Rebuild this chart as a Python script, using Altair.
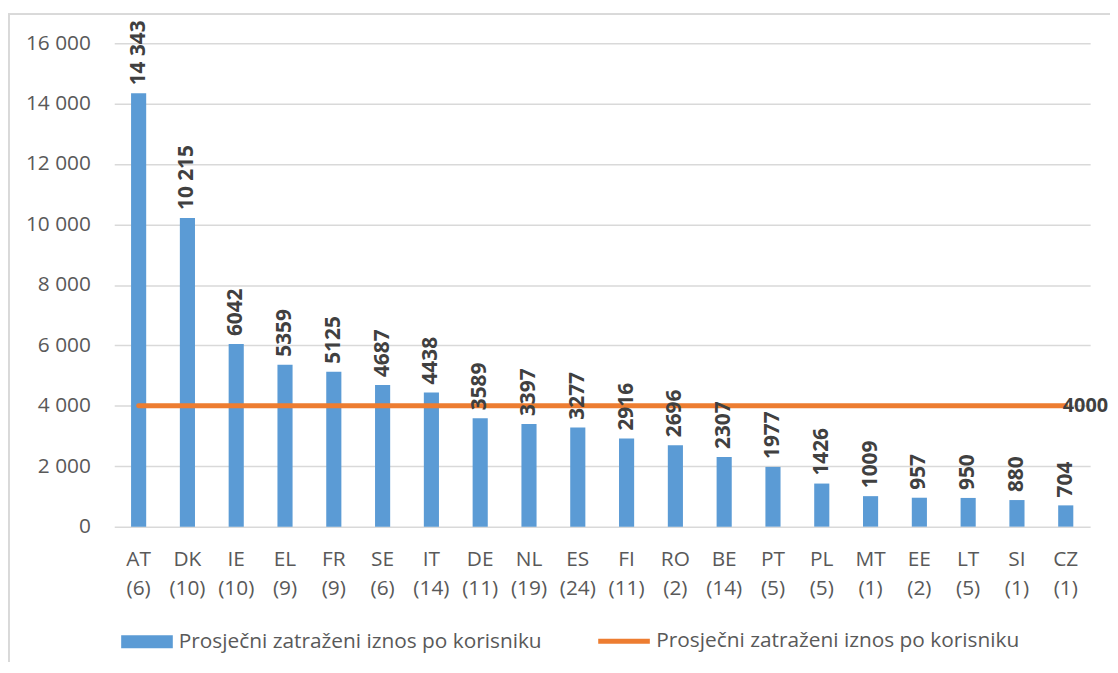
import altair as alt
import pandas as pd

countries = ["AT", "DK", "IE", "EL", "FR", "SE", "IT", "DE", "NL", "ES",
             "FI", "RO", "BE", "PT", "PL", "MT", "EE", "LT", "SI", "CZ"]
counts = [6, 10, 10, 9, 9, 6, 14, 11, 19, 24, 11, 2, 14, 5, 5, 1, 2, 5, 1, 1]
values = [14343, 10215, 6042, 5359, 5125, 4687, 4438, 3589, 3397, 3277,
          2916, 2696, 2307, 1977, 1426, 1009, 957, 950, 880, 704]
average = 4000
series_name = "Prosječni zatraženi iznos po korisniku"
y_ticks = [0, 2000, 4000, 6000, 8000, 10000, 12000, 14000, 16000]

FONT = "Open Sans"
FS = 21
df = pd.DataFrame({
    "cat": [f"{c}\n({n})" for c, n in zip(countries, counts)],
    "value": values,
    "avg": [average] * len(countries),
    "bar_series": ["bar"] * len(countries),
    "line_series": ["line"] * len(countries),
})
order = list(df["cat"])
df["is_last"] = [i == len(order) - 1 for i in range(len(order))]

legend_label = f"'{series_name}'"

x = alt.X("cat:N", sort=order, title=None,
          scale=alt.Scale(paddingInner=0.69, paddingOuter=0.345),
          axis=alt.Axis(labelAngle=0, labelExpr="split(datum.label, '\\n')",
                        labelLineHeight=29, labelPadding=22, labelFontSize=FS,
                        labelColor="#595959", labelFont=FONT, domain=False,
                        ticks=False, grid=False, labelBaseline="top"))

y_scale = alt.Scale(domain=[0, 16000], nice=False)

bars = alt.Chart(df).mark_bar(clip=False).encode(
    x=x,
    y=alt.Y("value:Q", scale=y_scale, title=None,
            axis=alt.Axis(values=y_ticks, labelExpr="replace(format(datum.value, ',d'), ',', ' ')",
                          labelFontSize=FS, labelColor="#595959", labelFont=FONT,
                          labelPadding=24, ticks=False, domain=False,
                          gridColor="#D9D9D9", gridWidth=1.5)),
    fill=alt.Fill("bar_series:N",
                  scale=alt.Scale(domain=["bar"], range=["#5B9BD5"]),
                  legend=alt.Legend(title=None, orient="none", legendX=7, legendY=577,
                                    symbolType="M-1,-0.25H1V0.25H-1Z", symbolSize=2704,
                                    symbolStrokeWidth=0, labelFontSize=FS, labelFont=FONT,
                                    labelColor="#595959", labelOffset=6, labelLimit=600,
                                    labelExpr=legend_label)),
)

bar_labels = alt.Chart(df).transform_calculate(
    lbl="datum.value >= 10000 ? replace(format(datum.value, ',d'), ',', ' ') : format(datum.value, 'd')"
).mark_text(angle=270, align="left", baseline="middle", dx=8, fontSize=FS,
            fontWeight="bold", font=FONT, color="#404040").encode(
    x=alt.X("cat:N", sort=order),
    y=alt.Y("value:Q", scale=y_scale),
    text="lbl:N",
)

line = alt.Chart(df).mark_line(strokeWidth=5, strokeCap="round").encode(
    x=alt.X("cat:N", sort=order),
    y=alt.Y("avg:Q", scale=y_scale),
    stroke=alt.Stroke("line_series:N",
                      scale=alt.Scale(domain=["line"], range=["#ED7D31"]),
                      legend=alt.Legend(title=None, orient="none", legendX=485, legendY=574,
                                        symbolType="stroke", symbolSize=2704,
                                        symbolStrokeWidth=5, labelFontSize=FS, labelFont=FONT,
                                        labelColor="#595959", labelOffset=4, labelLimit=600,
                                        labelExpr=legend_label)),
)

line_label = alt.Chart(df).transform_filter("datum.is_last").mark_text(
    align="left", baseline="middle", dx=-3, fontSize=20, fontWeight="bold",
    font=FONT, color="#404040").encode(
    x=alt.X("cat:N", sort=order),
    y=alt.Y("avg:Q", scale=y_scale),
    text=alt.Text("avg:Q", format="d"),
)

# decorative chart-area frame (top and left edges, as in the cropped original)
frame_top = alt.Chart(df).mark_rule(color="#D9D9D9", strokeWidth=1.5).encode(
    x=alt.value(-107), x2=alt.value(1003), y=alt.value(-29))
frame_left = alt.Chart(df).mark_rule(color="#D9D9D9", strokeWidth=1.5).encode(
    x=alt.value(-106.5), y=alt.value(-29), y2=alt.value(623))

chart = alt.layer(frame_top, frame_left, bars, line, bar_labels, line_label).resolve_legend(
    fill="independent", stroke="independent"
).properties(
    width=983, height=487,
    autosize=alt.AutoSizeParams(type="none"),
    padding={"left": 107, "top": 33, "right": 20, "bottom": 144},
).configure_view(stroke=None)

chart.save("out.html", embed_options={"renderer": "svg", "actions": False})
